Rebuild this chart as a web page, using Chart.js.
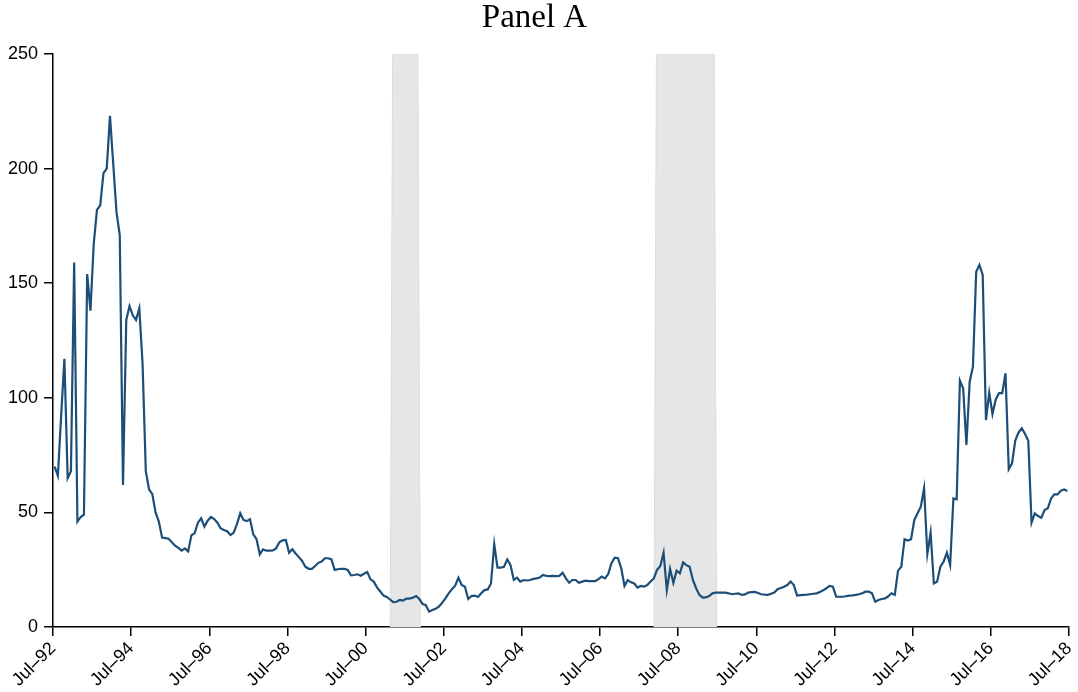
<!DOCTYPE html>
<html>
<head>
<meta charset="utf-8">
<script src="https://cdn.jsdelivr.net/npm/chart.js@4.4.1/dist/chart.umd.min.js"></script>
<style>
  html, body { margin: 0; padding: 0; background: #fff; }
  #wrap { width: 1078px; height: 692px; }
</style>
</head>
<body>
<div id="wrap"><canvas id="c" width="1078" height="692"></canvas></div>
<script>
// Monthly series, Jul-92 (index 0) to Jun-18 (index 311)
const seriesValues = [
  70, 66, 92, 117, 65, 68, 159, 46, 48, 49,
  154, 138, 167, 182, 184, 198, 200, 223, 202, 181,
  171, 62, 134, 140, 136, 134, 139, 115, 68, 60,
  58, 50, 46, 39, 38.8, 38.5, 37, 35.5, 34.5, 33.3,
  34.3, 33, 40, 41, 45.5, 47.4, 43.8, 46.4, 48, 47.1,
  45.5, 43, 42.3, 41.8, 40.1, 41.2, 45, 49.6, 46.7, 46.2,
  47, 40.4, 38.3, 31.7, 33.9, 33.3, 33.3, 33.4, 34.3, 37,
  37.8, 38, 32.4, 33.9, 32.1, 30.5, 28.8, 26.3, 25.4, 25.4,
  26.6, 28, 28.6, 30, 30, 29.5, 24.9, 25.2, 25.4, 25.4,
  24.9, 22.5, 22.7, 23, 22.4, 23.2, 24, 20.8, 19.8, 17.3,
  15.5, 13.7, 13.1, 12, 10.9, 11, 11.8, 11.5, 12.4, 12.4,
  12.8, 13.5, 12.2, 10, 9.5, 6.7, 7.4, 8, 8.9, 10.5,
  12.5, 14.7, 16.5, 18, 21.5, 18.3, 17.6, 12.2, 13.5, 13.7,
  13.1, 14.7, 16.1, 16.4, 19, 36.1, 25.9, 25.9, 26.3, 29.5,
  27, 20.5, 21.5, 19.8, 20.5, 20.3, 20.5, 21, 21.2, 21.6,
  22.7, 22.3, 22.2, 22.3, 22.2, 22.3, 23.7, 21.2, 19.3, 20.5,
  20.5, 19.3, 19.8, 20.2, 20, 20, 20, 20.9, 22, 21.2,
  23.1, 27.8, 30.2, 30, 25.6, 17.9, 20.5, 19.5, 19, 17.2,
  17.9, 17.6, 18.3, 19.8, 21.2, 24.9, 26.6, 32.4, 16.1, 25.3,
  19.3, 24.6, 23.4, 28.2, 27, 26.3, 20.5, 16.9, 14, 12.8,
  12.9, 13.5, 14.7, 15, 15, 15, 15, 14.7, 14.3, 14.5,
  14.7, 14, 14.2, 15, 15.2, 15.3, 14.8, 14.3, 14.1, 14,
  14.5, 15, 16.5, 17, 17.6, 18.3, 19.8, 18.3, 13.7, 13.9,
  14, 14.1, 14.3, 14.5, 14.7, 15.3, 16, 16.9, 17.9, 17.6,
  13.2, 13.2, 13.2, 13.4, 13.7, 13.8, 14, 14.3, 14.7, 15.4,
  15.4, 14.7, 11, 11.8, 12.2, 12.5, 13.4, 14.7, 14, 24.6,
  26.3, 38.3, 37.7, 38.3, 46.7, 49.6, 52.5, 60.5, 31.8, 41.1,
  19, 19.8, 26.3, 28.5, 32.4, 27, 56.1, 55.7, 107.5, 104.1,
  79.4, 107, 113.6, 155, 158, 153.6, 90.3, 102.2, 92.9, 99.3,
  102, 102, 110.7, 68.8, 71.4, 81.3, 84.8, 86.7, 84.2, 81.3,
  45.5, 49.6, 48.4, 47.7, 51, 51.8, 56.1, 57.9, 57.9, 59.5,
  60, 59.3
];

// X tick labels every 24 months starting Jul-92
const xTickLabels = ['Jul–92','Jul–94','Jul–96','Jul–98','Jul–00','Jul–02','Jul–04',
                     'Jul–06','Jul–08','Jul–10','Jul–12','Jul–14','Jul–16','Jul–18'];
const yTickValues = [0, 50, 100, 150, 200, 250];

// Recession periods (month index from Jul-92): Mar-01..Nov-01, Dec-07..Jun-09
const recessionStart = [104, 185];
const recessionEnd = [112, 203];

const MONTH_STEP = 24;
const lineData = seriesValues.map((v, i) => ({ x: i + 0.5, y: v }));

const shadeDatasets = recessionStart.map((s, k) => {
  const e = recessionEnd[k];
  return {
    type: 'line',
    data: [ { x: s - 0.45, y: 0 }, { x: s + 0.3, y: 250 }, { x: e + 0.05, y: 250 }, { x: e + 0.8, y: 0 } ],
    fill: 'origin',
    backgroundColor: '#e6e6e6',
    borderColor: '#dcdcdc',
    borderWidth: 1,
    pointRadius: 0,
    tension: 0,
    order: 2
  };
});

const chart = new Chart(document.getElementById('c'), {
  type: 'line',
  data: {
    datasets: [
      {
        data: lineData,
        borderColor: '#1d4e78',
        borderWidth: 2.2,
        pointRadius: 0,
        tension: 0,
        fill: false,
        order: 1
      },
      ...shadeDatasets
    ]
  },
  options: {
    responsive: false,
    animation: false,
    events: [],
    layout: { padding: { left: 0, right: 9, top: 0, bottom: 0 } },
    plugins: {
      legend: { display: false },
      tooltip: { enabled: false },
      title: {
        display: true,
        text: 'Panel A',
        color: '#000',
        font: { family: '"Liberation Serif", serif', size: 33, weight: 'normal', lineHeight: 1 },
        padding: { top: 2, bottom: 19 }
      }
    },
    scales: {
      x: {
        type: 'linear',
        min: 0,
        max: 312,
        afterBuildTicks: (scale) => {
          scale.ticks = xTickLabels.map((_, i) => ({ value: i * MONTH_STEP }));
        },
        afterFit: (scale) => {
          scale.height = 65;
          scale.paddingLeft = 0;
          scale.paddingRight = 0;
        },
        ticks: {
          autoSkip: false,
          minRotation: 45,
          maxRotation: 45,
          padding: 2,
          color: '#000',
          font: { family: '"Liberation Sans", Arial, sans-serif', size: 18 },
          callback: (value) => xTickLabels[Math.round(value / MONTH_STEP)]
        },
        grid: { drawOnChartArea: false, drawTicks: true, tickLength: 9, color: '#000', lineWidth: 1.5 },
        border: { display: true, color: '#000', width: 1.5 }
      },
      y: {
        min: 0,
        max: 250,
        afterBuildTicks: (scale) => {
          scale.ticks = yTickValues.map(v => ({ value: v }));
        },
        afterFit: (scale) => {
          scale.width = 53;
          scale.paddingTop = 0;
          scale.paddingBottom = 0;
        },
        ticks: {
          padding: 6,
          color: '#000',
          font: { family: '"Liberation Sans", Arial, sans-serif', size: 18 }
        },
        grid: { drawOnChartArea: false, drawTicks: true, tickLength: 9, color: '#000', lineWidth: 1.5 },
        border: { display: true, color: '#000', width: 1.5 }
      }
    }
  }
});
</script>
</body>
</html>
